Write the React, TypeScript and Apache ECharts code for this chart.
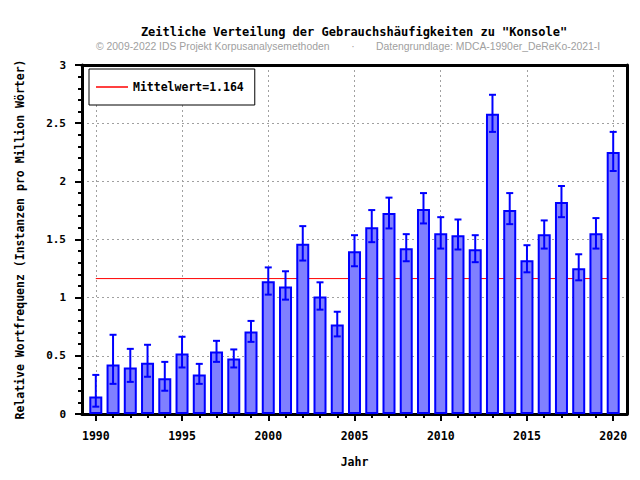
import React, { useEffect, useRef } from "react";
import * as echarts from "echarts";

const years = [1990, 1991, 1992, 1993, 1994, 1995, 1996, 1997, 1998, 1999, 2000, 2001, 2002, 2003, 2004, 2005, 2006, 2007, 2008, 2009, 2010, 2011, 2012, 2013, 2014, 2015, 2016, 2017, 2018, 2019, 2020];
const values = [0.15, 0.425, 0.4, 0.44, 0.307, 0.52, 0.339, 0.537, 0.477, 0.71, 1.142, 1.097, 1.463, 1.011, 0.77, 1.4, 1.606, 1.727, 1.425, 1.762, 1.554, 1.537, 1.417, 2.58, 1.753, 1.322, 1.546, 1.822, 1.253, 1.554, 2.253];
const errLow = [0.063, 0.259, 0.276, 0.32, 0.2, 0.4, 0.259, 0.448, 0.4, 0.62, 1.026, 0.983, 1.319, 0.897, 0.667, 1.27, 1.477, 1.595, 1.313, 1.638, 1.422, 1.414, 1.305, 2.425, 1.632, 1.218, 1.422, 1.692, 1.149, 1.422, 2.089];
const errHigh = [0.336, 0.681, 0.56, 0.595, 0.448, 0.664, 0.431, 0.629, 0.555, 0.8, 1.26, 1.227, 1.615, 1.132, 0.879, 1.537, 1.753, 1.86, 1.546, 1.899, 1.692, 1.672, 1.537, 2.744, 1.899, 1.451, 1.664, 1.96, 1.373, 1.684, 2.425];
const majorYears = [1990, 1995, 2000, 2005, 2010, 2015, 2020];
const mean = 1.164;

const titleText = 'Zeitliche Verteilung der Gebrauchshäufigkeiten zu "Konsole"';
const copyrightText = "© 2009-2022 IDS Projekt Korpusanalysemethoden";
const sourceText = "Datengrundlage: MDCA-1990er_DeReKo-2021-I";
const xName = "Jahr";
const yName = "Relative Wortfrequenz (Instanzen pro Million Wörter)";
const legendName = `Mittelwert=${mean}`;

const MONO = '"DejaVu Sans Mono", monospace';
const SANS = '"Liberation Sans", Arial, sans-serif';

export default function App() {
  const ref = useRef<HTMLDivElement>(null);
  useEffect(() => {
    if (!ref.current) return;
    const chart = echarts.init(ref.current, null, { renderer: "svg" });
    const xMin = 1989.2;
    const xMax = 2020.8;
    const gridLine = { show: true, lineStyle: { type: [2, 3] as any, color: "#a0a0a0", width: 1 } };
    chart.setOption({
      animation: false,
      backgroundColor: "#fff",
      grid: { left: 82, right: 13, top: 65, bottom: 66 },
      graphic: [
        {
          type: "text",
          x: 354,
          y: 32,
          style: { text: titleText, font: `bold 12px ${MONO}`, fill: "#000", align: "center", verticalAlign: "middle" },
        },
        {
          type: "text",
          x: 96,
          y: 46,
          style: { text: copyrightText, font: `10.4px ${SANS}`, fill: "#a0a0a0", align: "left", verticalAlign: "middle" },
        },
        {
          type: "text",
          x: 353,
          y: 46,
          style: { text: "·", font: `10.4px ${SANS}`, fill: "#a0a0a0", align: "center", verticalAlign: "middle" },
        },
        {
          type: "text",
          x: 376,
          y: 46,
          style: { text: sourceText, font: `10.4px ${SANS}`, fill: "#a0a0a0", align: "left", verticalAlign: "middle" },
        },
      ],
      legend: {
        data: [{ name: legendName, icon: "rect" }],
        left: 89,
        top: 69,
        orient: "horizontal",
        itemWidth: 32,
        itemHeight: 1.5,
        padding: [12, 11, 12, 7],
        borderColor: "#000",
        borderWidth: 1,
        backgroundColor: "#fff",
        selectedMode: false,
        textStyle: { fontFamily: MONO, fontWeight: "bold", fontSize: 11.5, color: "#000" },
      },
      xAxis: [
        {
          type: "value",
          min: xMin,
          max: xMax,
          position: "bottom",
          axisLine: { show: true, onZero: false, lineStyle: { color: "#000", width: 3 } },
          axisTick: { show: true, customValues: majorYears, length: 7, lineStyle: { color: "#000", width: 2 } },
          axisLabel: {
            customValues: majorYears,
            formatter: (v: number) => String(Math.round(v)),
            margin: 16,
            fontFamily: MONO,
            fontWeight: "bold",
            fontSize: 11.5,
            color: "#000",
          },
          splitLine: gridLine,
          name: xName,
          nameLocation: "middle",
          nameGap: 42,
          nameTextStyle: { fontFamily: MONO, fontWeight: "bold", fontSize: 11.5, color: "#000" },
        },
        {
          type: "value",
          min: xMin,
          max: xMax,
          position: "bottom",
          axisLine: { show: false, onZero: false },
          axisTick: { show: true, customValues: years, length: 4, lineStyle: { color: "#000", width: 2 } },
          axisLabel: { show: false },
          splitLine: { show: false },
        },
        {
          type: "value",
          min: xMin,
          max: xMax,
          position: "top",
          axisLine: { show: true, onZero: false, lineStyle: { color: "#000", width: 3 } },
          axisTick: { show: false },
          axisLabel: { show: false },
          splitLine: { show: false },
        },
      ],
      yAxis: [
        {
          type: "value",
          min: 0,
          max: 3,
          interval: 0.5,
          position: "left",
          axisLine: { show: true, onZero: false, lineStyle: { color: "#000", width: 3 } },
          axisTick: { show: true, length: 7, lineStyle: { color: "#000", width: 2 } },
          minorTick: { show: true, splitNumber: 5, length: 4, lineStyle: { color: "#000", width: 2 } },
          axisLabel: { margin: 16, fontFamily: MONO, fontWeight: "bold", fontSize: 11, color: "#000" },
          splitLine: gridLine,
          name: yName,
          nameLocation: "middle",
          nameGap: 56,
          nameTextStyle: { fontFamily: MONO, fontWeight: "bold", fontSize: 11.5, color: "#000" },
        },
        {
          type: "value",
          min: 0,
          max: 3,
          position: "right",
          axisLine: { show: true, onZero: false, lineStyle: { color: "#000", width: 3 } },
          axisTick: { show: false },
          axisLabel: { show: false },
          splitLine: { show: false },
        },
      ],
      series: [
        {
          name: legendName,
          type: "line",
          xAxisIndex: 0,
          yAxisIndex: 0,
          data: [
            [years[0], mean],
            [years[years.length - 1], mean],
          ],
          symbol: "none",
          lineStyle: { color: "#ff0000", width: 1 },
          itemStyle: { color: "#ff0000" },
          z: 1,
        },
        {
          name: "Frequenz",
          type: "bar",
          xAxisIndex: 0,
          yAxisIndex: 0,
          data: years.map((y, i) => [y, values[i]]),
          barWidth: 13,
          itemStyle: { color: "#8080ff", borderColor: "#0000ff", borderWidth: 2 },
          z: 2,
        },
        {
          name: "Fehler",
          type: "custom",
          xAxisIndex: 0,
          yAxisIndex: 0,
          data: years.map((y, i) => [y, errLow[i], errHigh[i]]),
          encode: { x: 0, y: [1, 2] },
          renderItem: (params: any, api: any) => {
            const x = api.value(0);
            const lo = api.coord([x, api.value(1)]);
            const hi = api.coord([x, api.value(2)]);
            const cap = 3.5;
            const style = { stroke: "#0000ff", lineWidth: 2 };
            return {
              type: "group",
              children: [
                { type: "line", shape: { x1: lo[0], y1: lo[1], x2: hi[0], y2: hi[1] }, style },
                { type: "line", shape: { x1: hi[0] - cap, y1: hi[1], x2: hi[0] + cap, y2: hi[1] }, style },
                { type: "line", shape: { x1: lo[0] - cap, y1: lo[1], x2: lo[0] + cap, y2: lo[1] }, style },
              ],
            };
          },
          z: 3,
        },
      ],
    });
    return () => chart.dispose();
  }, []);
  return <div ref={ref} style={{ position: "fixed", left: 0, top: 0, width: 640, height: 480 }} />;
}
